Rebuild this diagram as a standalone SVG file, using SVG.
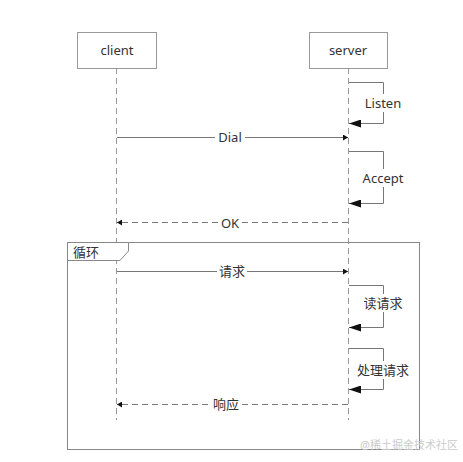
<svg xmlns="http://www.w3.org/2000/svg" width="463" height="462" viewBox="0 0 463 462">
<defs>
<marker id="big" markerWidth="12" markerHeight="8" refX="12" refY="4" orient="auto" markerUnits="userSpaceOnUse"><path d="M0,0 L12,4 L0,8 Z" fill="#111"/></marker>
<marker id="small" markerWidth="5" markerHeight="6" refX="5" refY="3" orient="auto" markerUnits="userSpaceOnUse"><path d="M0,0 L5,3 L0,6 Z" fill="#111"/></marker>
</defs>
<style>
text{font-family:"Noto Sans","Noto Sans CJK SC",sans-serif;font-size:13px;fill:#333;text-anchor:middle;dominant-baseline:central}
.box{fill:#fff;stroke:#999;stroke-width:1}
.life{stroke:#999;stroke-width:1;stroke-dasharray:6,4;fill:none}
.msg{stroke:#777;stroke-width:1;fill:none}
.dash{stroke:#777;stroke-width:1;fill:none;stroke-dasharray:6,4}
.bg{fill:#fff}
</style>
<rect width="463" height="462" fill="#fff"/>
<g id="lifelines">
<line class="life" x1="116.5" y1="68" x2="116.5" y2="420"/>
<line class="life" x1="348.5" y1="68" x2="348.5" y2="420"/>
</g>
<g id="client"><rect class="box" x="77.5" y="32.5" width="79" height="36"/><text x="117" y="50">client</text></g>
<g id="server"><rect class="box" x="309.5" y="32.5" width="78" height="36"/><text x="348" y="50">server</text></g>
<g id="loop">
<rect x="67.5" y="242.5" width="352" height="207" fill="none" stroke="#888"/>
<path d="M67.5,242.5 H128.5 V251 L120,260.5 H67.5 Z" fill="#fff" stroke="#888"/>
<text x="86" y="252">循环</text>
</g>
<g id="connectors">
<polyline class="msg" points="349,82.5 383.5,82.5 383.5,123.5 349,123.5" marker-end="url(#big)"/>
<rect class="bg" x="362" y="94" width="44" height="18"/><text x="383" y="103">Listen</text>
<line class="msg" x1="117" y1="137.5" x2="348" y2="137.5" marker-end="url(#small)"/>
<rect class="bg" x="215" y="129" width="30" height="17"/><text x="230" y="137">Dial</text>
<polyline class="msg" points="349,151.5 383.5,151.5 383.5,203.5 349,203.5" marker-end="url(#big)"/>
<rect class="bg" x="360" y="169" width="47" height="18"/><text x="383" y="178">Accept</text>
<line class="dash" x1="348" y1="222.5" x2="117" y2="222.5" marker-end="url(#small)"/>
<rect class="bg" x="218" y="214" width="24" height="17"/><text x="230" y="223">OK</text>
<line class="msg" x1="117" y1="271.5" x2="348" y2="271.5" marker-end="url(#small)"/>
<rect class="bg" x="217" y="263" width="30" height="17"/><text x="232" y="271">请求</text>
<polyline class="msg" points="349,285.5 383.5,285.5 383.5,327.5 349,327.5" marker-end="url(#big)"/>
<rect class="bg" x="361" y="294" width="44" height="18"/><text x="383" y="303">读请求</text>
<polyline class="msg" points="349,348.5 383.5,348.5 383.5,389.5 349,389.5" marker-end="url(#big)"/>
<rect class="bg" x="354" y="361" width="58" height="18"/><text x="383" y="370">处理请求</text>
<line class="dash" x1="348" y1="404.5" x2="117" y2="404.5" marker-end="url(#small)"/>
<rect class="bg" x="211" y="396" width="30" height="17"/><text x="226" y="404">响应</text>
</g>
<text x="409" y="444" style="font-size:11px;fill:#ccc">@稀土掘金技术社区</text>
</svg>
